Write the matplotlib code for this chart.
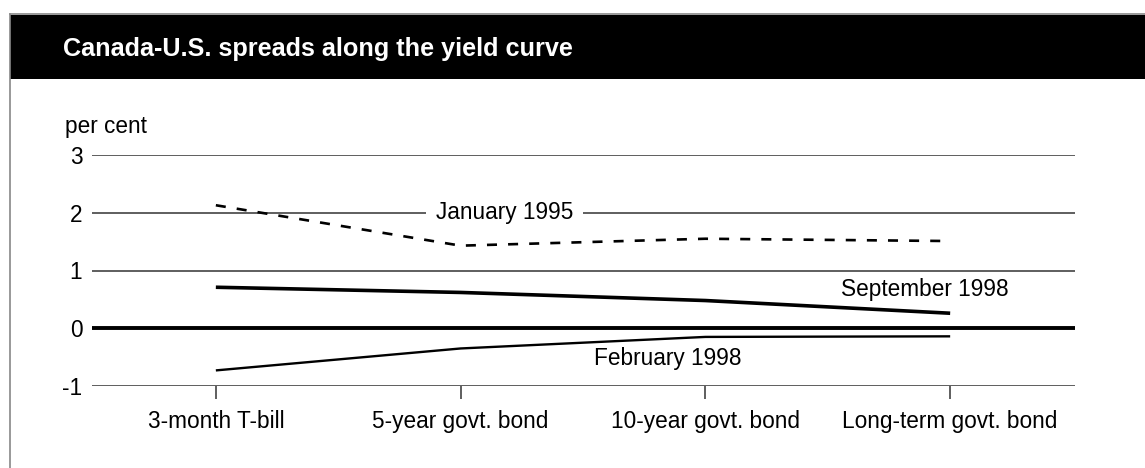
import matplotlib
matplotlib.use("Agg")
import matplotlib.pyplot as plt
from matplotlib.patches import Rectangle
from matplotlib.lines import Line2D

categories = ["3-month T-bill", "5-year govt. bond", "10-year govt. bond", "Long-term govt. bond"]
jan_1995 = [2.13, 1.43, 1.55, 1.51]
sep_1998 = [0.71, 0.62, 0.48, 0.26]
feb_1998 = [-0.73, -0.35, -0.15, -0.14]
y_ticks = [-1, 0, 1, 2, 3]
title = "Canada-U.S. spreads along the yield curve"

W, H = 1145, 468
fig = plt.figure(figsize=(W / 100, H / 100), dpi=100)
fig.patch.set_facecolor("white")

def fx(px):
    return px / W

def fy(py):
    return 1 - py / H

FS = 16.3
# frame and title bar
fig.patches.append(Rectangle((fx(10), fy(79)), 1 - fx(10), fy(15) - fy(79),
                             transform=fig.transFigure, facecolor="black", edgecolor="none"))
fig.lines.append(Line2D([fx(10), 1], [fy(14), fy(14)], transform=fig.transFigure, color="#888888", lw=1.2))
fig.lines.append(Line2D([fx(10), fx(10)], [fy(14), 0], transform=fig.transFigure, color="#888888", lw=1.2))
fig.text(fx(63), fy(49), title, color="white", fontsize=18.2, fontweight="bold",
         family=["Liberation Sans Narrow", "Liberation Sans"], va="center", ha="left")

ax = fig.add_axes([fx(92), fy(386), fx(1075) - fx(92), fy(155) - fy(386)])
ax.set_xlim(-0.506, 3.51)
ax.set_ylim(-1, 3)
for s in ax.spines.values():
    s.set_visible(False)
for t in y_ticks:
    if t == 0:
        ax.axhline(t, color="black", lw=2.8, zorder=2)
    else:
        ax.axhline(t, color="#333333", lw=1.1, zorder=1)

x = list(range(len(categories)))
ax.plot(x, jan_1995, color="black", lw=1.9, linestyle=(0, (3.8, 4.2)), zorder=3)
ax.plot(x, sep_1998, color="black", lw=2.6, zorder=3, solid_capstyle="butt")
ax.plot(x, feb_1998, color="black", lw=1.7, zorder=3, solid_capstyle="butt")

ax.set_xticks(x)
ax.set_xticklabels(categories, family="Liberation Sans", fontsize=FS)
ax.tick_params(axis="x", length=9, width=1.1, color="#333333", pad=8)
ax.set_yticks(y_ticks)
ax.set_yticklabels([str(t) for t in y_ticks], family="Liberation Sans", fontsize=FS)
ax.tick_params(axis="y", length=0, pad=7)

ax.text(1.18, 2.0, "January 1995", family="Liberation Sans", fontsize=FS, ha="center", va="center",
        bbox=dict(facecolor="white", edgecolor="none", pad=7), zorder=2.5)
ax.text(2.556, 0.67, "September 1998", family="Liberation Sans", fontsize=FS, ha="left", va="center", zorder=4)
ax.text(1.546, -0.52, "February 1998", family="Liberation Sans", fontsize=FS, ha="left", va="center", zorder=4)

fig.text(fx(65), fy(127), "per cent", family="Liberation Sans", fontsize=FS, ha="left", va="center")

fig.savefig("out.png", dpi=100)
